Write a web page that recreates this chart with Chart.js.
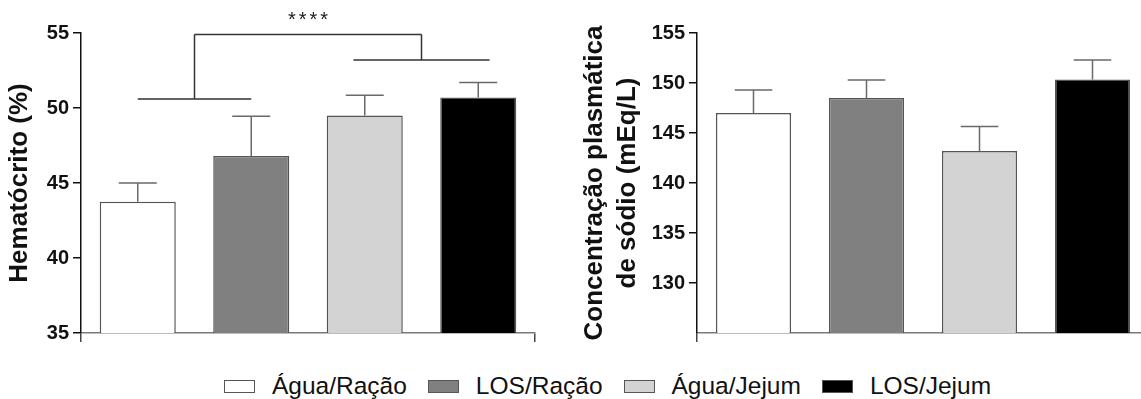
<!DOCTYPE html>
<html lang="pt">
<head>
<meta charset="UTF-8">
<title>Hematócrito e sódio plasmático</title>
<script src="https://cdn.jsdelivr.net/npm/chart.js"></script>
<style>
    body {
        margin: 0;
        background: #fff;
        overflow: hidden;
        font-family: "Liberation Sans", Arial, sans-serif;
    }

    #hemChart {
        position: absolute;
        left: 0;
        top: 0;
    }

    #naChart {
        position: absolute;
        left: 560px;
        top: 0;
    }

    #legend {
        position: absolute;
        left: 224px;
        top: 372px;
        height: 28px;
        display: flex;
        align-items: center;
        font-size: 24.5px;
        color: #111;
        white-space: nowrap;
    }

    #legend .item {
        display: flex;
        align-items: center;
        margin-right: 21px;
    }

    #legend .box {
        width: 31px;
        height: 13px;
        box-sizing: border-box;
        border: 1.5px solid #555;
        margin-right: 17px;
    }
</style>
</head>
<body>
<canvas id="hemChart" width="560" height="360"></canvas>
<canvas id="naChart" width="600" height="360"></canvas>
<div id="legend"></div>

<script>
    // grupos experimentais
    const groups = ['Água/Ração', 'LOS/Ração', 'Água/Jejum', 'LOS/Jejum'];

    // hematócrito (%) - média e EPM
    const hemMean = [43.75, 46.8, 49.5, 50.7];
    const hemSem = [1.25, 2.65, 1.35, 1.0];
    const hemTicks = [35, 40, 45, 50, 55];

    // sódio plasmático (mEq/L) - média e EPM
    const naMean = [147.0, 148.5, 143.2, 150.35];
    const naSem = [2.3, 1.8, 2.45, 1.95];
    const naTicks = [130, 135, 140, 145, 150, 155];

    // comparação (Água vs LOS agrupados), em índices de categoria e valores de y
    const sigSpans = [[0, 1], [1.9, 3.1]];
    const sigLevels = [50.6, 53.2];
    const sigTop = 54.9;
    const sigLabel = '****';

    const fillColors = ['#ffffff', '#808080', '#d3d3d3', '#000000'];

    Chart.defaults.font.family = '"Liberation Sans", Arial, sans-serif';
    Chart.defaults.color = '#111';

    function errorBars(sem) {
        return {
            id: 'errorBars',
            afterDatasetsDraw(chart) {
                const ctx = chart.ctx;
                const y = chart.scales.y;
                const values = chart.data.datasets[0].data;
                ctx.save();
                ctx.strokeStyle = '#6a6a6a';
                ctx.lineWidth = 1.5;
                chart.getDatasetMeta(0).data.forEach((bar, i) => {
                    const top = y.getPixelForValue(values[i] + sem[i]);
                    const half = bar.width / 4;
                    ctx.beginPath();
                    ctx.moveTo(bar.x, bar.y);
                    ctx.lineTo(bar.x, top);
                    ctx.moveTo(bar.x - half, top);
                    ctx.lineTo(bar.x + half, top);
                    ctx.stroke();
                });
                ctx.restore();
            }
        };
    }

    const sigBracket = {
        id: 'sigBracket',
        afterDraw(chart) {
            const ctx = chart.ctx;
            const x = chart.scales.x;
            const y = chart.scales.y;
            const yTop = y.getPixelForValue(sigTop);
            const mids = [];
            ctx.save();
            ctx.strokeStyle = '#333';
            ctx.lineWidth = 1.5;
            sigSpans.forEach((span, i) => {
                const x0 = x.getPixelForValue(span[0]);
                const x1 = x.getPixelForValue(span[1]);
                const yy = y.getPixelForValue(sigLevels[i]);
                const mid = (x0 + x1) / 2;
                mids.push(mid);
                ctx.beginPath();
                ctx.moveTo(x0, yy);
                ctx.lineTo(x1, yy);
                ctx.moveTo(mid, yy);
                ctx.lineTo(mid, yTop);
                ctx.stroke();
            });
            ctx.beginPath();
            ctx.moveTo(mids[0], yTop);
            ctx.lineTo(mids[1], yTop);
            ctx.stroke();

            ctx.fillStyle = '#222';
            ctx.font = '20px "Liberation Sans", Arial, sans-serif';
            ctx.letterSpacing = '3px';
            ctx.textAlign = 'center';
            ctx.textBaseline = 'middle';
            ctx.fillText(sigLabel, (mids[0] + mids[1]) / 2 + 1.5, yTop - 14);
            ctx.restore();
        }
    };

    function barChart(canvas, values, sem, yMin, yMax, tickValues, title, opts, extraPlugins) {
        return new Chart(canvas, {
            type: 'bar',
            data: {
                labels: groups,
                datasets: [{
                    data: values,
                    backgroundColor: fillColors,
                    borderColor: '#555',
                    borderWidth: 1.5,
                    barPercentage: opts.barPct,
                    categoryPercentage: 1
                }]
            },
            options: {
                responsive: false,
                animation: false,
                layout: { padding: opts.padding },
                plugins: {
                    legend: { display: false },
                    tooltip: { enabled: false }
                },
                scales: {
                    x: { type: 'category', display: false },
                    x2: {
                        type: 'linear',
                        position: 'bottom',
                        min: 0,
                        max: 1,
                        afterBuildTicks: s => { s.ticks = [{ value: 0.5 }]; },
                        ticks: { display: false },
                        grid: { drawOnChartArea: false, drawTicks: true, tickLength: 9, color: '#444', lineWidth: 1.5 },
                        border: { display: true, color: '#7a7a7a', width: 1.5 }
                    },
                    y: {
                        min: yMin,
                        max: yMax,
                        afterBuildTicks: s => { s.ticks = tickValues.map(v => ({ value: v })); },
                        afterFit: s => { s.width = opts.axisWidth; },
                        ticks: { font: { size: 20, weight: 'bold' }, color: '#111', padding: 4 },
                        grid: { drawOnChartArea: false, drawTicks: true, tickLength: 8, color: '#111', lineWidth: 1.5 },
                        border: { display: true, color: '#111', width: 1.5 },
                        title: {
                            display: true,
                            text: title,
                            color: '#111',
                            font: { size: 26, weight: 'bold', lineHeight: opts.titleLineHeight },
                            padding: { top: opts.titlePad, bottom: 0 }
                        }
                    }
                }
            },
            plugins: [errorBars(sem)].concat(extraPlugins)
        });
    }

    barChart(document.getElementById('hemChart'), hemMean, hemSem, 35, 55, hemTicks,
        'Hematócrito (%)',
        { barPct: 0.67, axisWidth: 81, padding: { top: 33, right: 25, bottom: 18, left: 0 }, titleLineHeight: 1.2, titlePad: 4 },
        [sigBracket]);

    barChart(document.getElementById('naChart'), naMean, naSem, 125, 155, naTicks,
        ['Concentração plasmática', 'de sódio (mEq/L)'],
        { barPct: 0.665, axisWidth: 137, padding: { top: 33, right: 11, bottom: 18, left: 0 }, titleLineHeight: 1.27, titlePad: 18.5 },
        []);

    // legenda compartilhada
    const legend = document.getElementById('legend');
    groups.forEach((g, i) => {
        const item = document.createElement('div');
        item.className = 'item';
        const box = document.createElement('span');
        box.className = 'box';
        box.style.background = fillColors[i];
        const label = document.createElement('span');
        label.textContent = g;
        item.appendChild(box);
        item.appendChild(label);
        legend.appendChild(item);
    });
</script>
</body>
</html>
